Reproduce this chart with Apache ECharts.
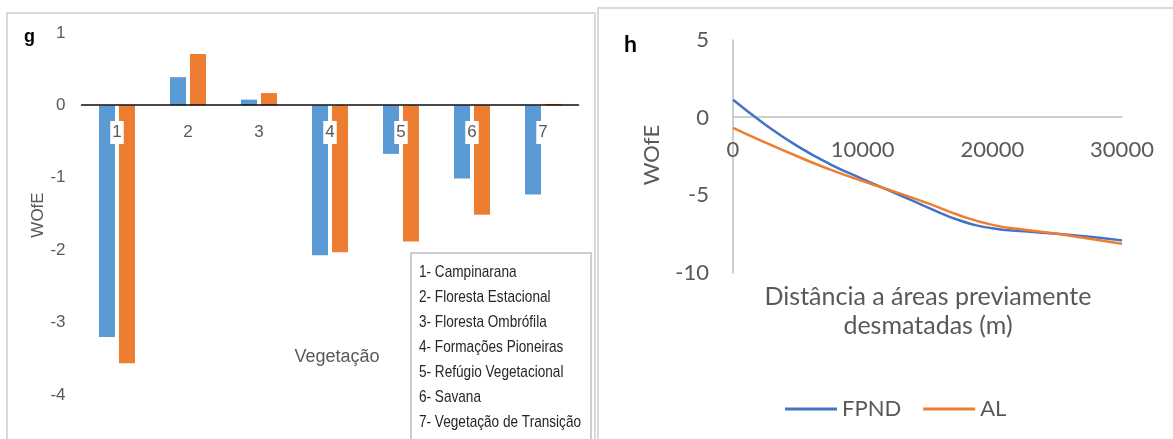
<!DOCTYPE html>
<html>
<head>
<meta charset="utf-8">
<script src="https://cdn.jsdelivr.net/npm/echarts@6/dist/echarts.min.js"></script>
<style>
html,body{margin:0;padding:0;background:#fff}
#main{width:1173px;height:439px}
</style>
</head>
<body>
<div id="main"></div>
<script>
// painel g - vegetação
var vegCategorias = ['1', '2', '3', '4', '5', '6', '7'];
var vegNomes = ['1- Campinarana', '2- Floresta Estacional', '3- Floresta Ombrófila', '4- Formações Pioneiras',
    '5- Refúgio Vegetacional', '6- Savana', '7- Vegetação de Transição'];
var vegAzul = [-3.20, 0.39, 0.08, -2.07, -0.67, -1.01, -1.23];
var vegLaranja = [-3.56, 0.71, 0.17, -2.03, -1.88, -1.51, 0.02];
var vegTicks = [1, 0, -1, -2, -3, -4];

// painel h - distância a áreas previamente desmatadas
var distancia = [0, 2500, 5000, 7500, 10000, 12500, 15000, 17500, 20000, 22500, 25000, 27500, 30000];
var wofeFPND = [1.15, -0.45, -1.85, -3.0, -3.95, -4.85, -5.77, -6.62, -7.12, -7.32, -7.48, -7.66, -7.9];
var wofeAL = [-0.65, -1.6, -2.5, -3.35, -4.08, -4.78, -5.5, -6.3, -6.9, -7.22, -7.48, -7.8, -8.12];

var fonteG = "'Liberation Sans', Arial, sans-serif";
var fonteH = "Lato, 'Open Sans', sans-serif";
var cinza = '#595959';

var chart = echarts.init(document.getElementById('main'));

// texto da legenda do painel g (Arial Narrow simulado com scaleX)
var legendaTextos = vegNomes.map(function (t, i) {
    return {
        type: 'text', x: 419, y: 272.5 + i * 24.9, scaleX: 0.8, z: 10,
        style: {text: t, font: '17px ' + fonteG, fill: '#262626', verticalAlign: 'middle'}
    };
});

var option = {
    backgroundColor: '#fff',
    animation: false,
    grid: [
        {left: 81.5, top: 33, width: 497, height: 362},
        {left: 733, top: 40, width: 389, height: 233}
    ],
    xAxis: [{
        gridIndex: 0, type: 'category', data: vegCategorias, z: 5,
        position: 'bottom', offset: -290,
        axisLine: {onZero: false, lineStyle: {color: '#0d0d0d', width: 1.5}},
        axisTick: {show: false},
        axisLabel: {color: cinza, fontSize: 17, fontFamily: fonteG, margin: 16,
            backgroundColor: '#fff', padding: [3, 2]}
    }, {
        gridIndex: 1, type: 'value', min: 0, max: 30000, interval: 10000,
        position: 'bottom', offset: -156,
        axisLine: {onZero: false, lineStyle: {color: '#bfbfbf', width: 1.5}},
        axisTick: {show: false},
        splitLine: {show: false},
        axisLabel: {color: cinza, fontSize: 22, fontFamily: fonteH, margin: 22,
            formatter: function (v) { return String(v); }}
    }],
    yAxis: [{
        gridIndex: 0, type: 'value', min: vegTicks[vegTicks.length - 1], max: vegTicks[0], interval: 1,
        axisLine: {show: false}, axisTick: {show: false}, splitLine: {show: false},
        axisLabel: {color: cinza, fontSize: 17, fontFamily: fonteG, margin: 16}
    }, {
        gridIndex: 1, type: 'value', min: -10, max: 5, interval: 5,
        axisLine: {show: true, onZero: false, lineStyle: {color: '#bfbfbf', width: 1.5}},
        axisTick: {show: false}, splitLine: {show: false},
        axisLabel: {color: cinza, fontSize: 22, fontFamily: fonteH, margin: 24}
    }],
    legend: {
        data: ['FPND', 'AL'], left: 780, top: 393,
        icon: 'rect', itemWidth: 52, itemHeight: 3, itemGap: 22,
        textStyle: {color: cinza, fontSize: 22, fontFamily: fonteH}
    },
    series: [{
        name: 'g-azul', type: 'bar', xAxisIndex: 0, yAxisIndex: 0, data: vegAzul,
        barWidth: 16, barGap: '25%', itemStyle: {color: '#5b9bd5'}
    }, {
        name: 'g-laranja', type: 'bar', xAxisIndex: 0, yAxisIndex: 0, data: vegLaranja,
        barWidth: 16, barGap: '25%', itemStyle: {color: '#ed7d31'}
    }, {
        name: 'FPND', type: 'line', xAxisIndex: 1, yAxisIndex: 1, smooth: true, showSymbol: false,
        data: distancia.map(function (d, i) { return [d, wofeFPND[i]]; }),
        lineStyle: {color: '#4472c4', width: 2.5}, itemStyle: {color: '#4472c4'}
    }, {
        name: 'AL', type: 'line', xAxisIndex: 1, yAxisIndex: 1, smooth: true, showSymbol: false,
        data: distancia.map(function (d, i) { return [d, wofeAL[i]]; }),
        lineStyle: {color: '#ed7d31', width: 2.5}, itemStyle: {color: '#ed7d31'}
    }],
    graphic: [
        // molduras dos painéis
        {type: 'rect', shape: {x: 7, y: 13, width: 588, height: 440}, style: {fill: 'none', stroke: '#d9d9d9', lineWidth: 2}},
        {type: 'rect', shape: {x: 598, y: 8, width: 590, height: 445}, style: {fill: 'none', stroke: '#d9d9d9', lineWidth: 2}},
        {type: 'rect', shape: {x: 411, y: 253, width: 180, height: 200}, z: 9, style: {fill: '#fff', stroke: '#bfbfbf', lineWidth: 1.5}},
        {type: 'text', left: 24, top: 28, style: {text: 'g', font: 'bold 18px ' + fonteG, fill: '#000'}},
        {type: 'text', x: 38, y: 215, rotation: Math.PI / 2, style: {text: 'WOfE', font: '17px ' + fonteG, fill: cinza, align: 'center', verticalAlign: 'middle'}},
        {type: 'text', x: 337, y: 357, style: {text: 'Vegetação', font: '18px ' + fonteG, fill: cinza, align: 'center', verticalAlign: 'middle'}},
        {type: 'text', left: 624, top: 33, style: {text: 'h', font: 'bold 23px ' + fonteH, fill: '#000'}},
        {type: 'text', x: 652, y: 155, rotation: Math.PI / 2, style: {text: 'WOfE', font: '22px ' + fonteH, fill: cinza, align: 'center', verticalAlign: 'middle'}},
        {type: 'text', x: 928, y: 311, style: {text: 'Distância a áreas previamente\ndesmatadas (m)', font: '25px ' + fonteH, lineHeight: 29, fill: cinza, align: 'center', verticalAlign: 'middle'}}
    ].concat(legendaTextos)
};

chart.setOption(option);
</script>
</body>
</html>
